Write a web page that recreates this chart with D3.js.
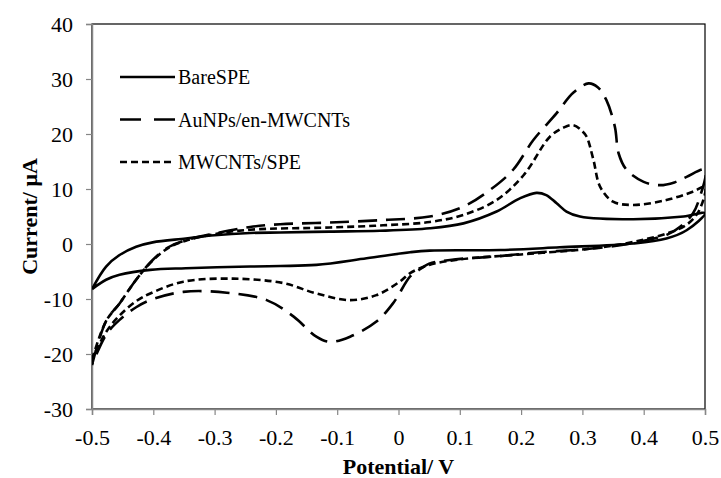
<!DOCTYPE html>
<html>
<head>
<meta charset="utf-8">
<script src="https://cdn.jsdelivr.net/npm/d3@7"></script>
<style>
  html, body { margin: 0; padding: 0; background: #fff; }
  svg text { font-family: 'Liberation Serif', 'Times New Roman', 'DejaVu Serif', serif; }
</style>
</head>
<body>
<svg id="chart" width="721" height="478"></svg>
<script>
// ---- Data (potential in V, current in µA), forward scan then reverse scan ----
const seriesNames = ["BareSPE", "AuNPs/en-MWCNTs", "MWCNTs/SPE"];

const bareSPE = [
  [-0.5,-8.2],[-0.477,-4.1],[-0.455,-2.0],[-0.428,-0.5],[-0.401,0.3],[-0.347,1.0],[-0.3,1.6],
  [-0.242,2.0],[-0.193,2.1],[-0.112,2.25],[-0.03,2.4],[0.051,2.85],[0.106,3.75],[0.16,5.9],
  [0.198,8.3],[0.225,9.3],[0.241,8.9],[0.258,7.4],[0.274,5.9],[0.296,5.0],[0.383,4.5],
  [0.465,5.0],[0.5,5.6],
  [0.47,2.5],[0.437,1.0],[0.383,0.1],[0.263,-0.6],[0.166,-1.1],[0.051,-1.2],[0.019,-1.5],
  [-0.052,-2.6],[-0.134,-3.8],[-0.193,-4.0],[-0.242,-4.1],[-0.347,-4.4],[-0.405,-4.7],
  [-0.455,-5.6],[-0.477,-6.5],[-0.5,-8.2]
];

const auNPs = [
  [-0.5,-22],[-0.477,-14],[-0.455,-10.8],[-0.428,-6.5],[-0.401,-2.9],[-0.374,-0.5],[-0.347,0.7],
  [-0.3,1.9],[-0.242,3.1],[-0.193,3.6],[-0.112,3.9],[-0.025,4.36],[0.051,5.0],[0.106,6.8],
  [0.149,9.8],[0.187,13.5],[0.22,18.9],[0.258,23.8],[0.285,27.5],[0.31,29.2],[0.325,28.5],
  [0.339,26.2],[0.353,21.3],[0.359,16.5],[0.372,13.5],[0.4,11.3],[0.427,10.7],[0.45,11.2],
  [0.47,12.2],[0.5,13.5],
  [0.49,8],[0.48,5.5],[0.46,3.2],[0.44,1.8],[0.41,0.8],[0.35,-0.4],[0.3,-1.0],[0.23,-1.5],
  [0.166,-2.2],[0.084,-2.9],[0.05,-3.6],[0.03,-5.0],[0.019,-5.9],[-0.009,-10.8],[-0.036,-14.1],
  [-0.079,-16.85],[-0.112,-17.8],[-0.134,-16.85],[-0.171,-13.2],[-0.215,-10.2],[-0.28,-8.85],
  [-0.351,-8.7],[-0.405,-10.2],[-0.428,-11.5],[-0.455,-13.8],[-0.477,-16.5],[-0.5,-22]
];

const mwcnts = [
  [-0.5,-21],[-0.477,-14],[-0.455,-10.8],[-0.428,-6.5],[-0.401,-3.0],[-0.374,-0.6],[-0.347,0.6],
  [-0.3,1.8],[-0.242,2.6],[-0.112,3.0],[-0.025,3.4],[0.051,4.0],[0.106,5.3],[0.16,8.0],
  [0.204,12.5],[0.247,19.5],[0.27,21.2],[0.285,21.6],[0.3,20.5],[0.307,19.5],[0.318,15.3],
  [0.329,10.4],[0.35,7.7],[0.383,7.1],[0.437,8.0],[0.48,9.5],[0.5,10.4],
  [0.49,6],[0.47,3.5],[0.44,2.0],[0.4,0.8],[0.35,-0.3],[0.3,-1.0],[0.2,-1.9],[0.1,-2.8],
  [0.05,-3.8],[0.019,-5.3],[0.002,-6.85],[-0.036,-9.3],[-0.079,-10.2],[-0.134,-9.0],
  [-0.188,-7.1],[-0.27,-6.3],[-0.351,-6.85],[-0.405,-9.0],[-0.428,-10.4],[-0.455,-13],
  [-0.477,-16],[-0.5,-21]
];

const xTicks = [-0.5,-0.4,-0.3,-0.2,-0.1,0,0.1,0.2,0.3,0.4,0.5];
const yTicks = [-30,-20,-10,0,10,20,30,40];
const xTitle = "Potential/ V";
const yTitle = "Current/ μA";

const FONT = "Liberation Serif";

// ---- Layout ----
const svg = d3.select("#chart");
const pLeft = 92, pRight = 705, pTop = 24, pBottom = 409;

const x = d3.scaleLinear().domain([-0.5, 0.5]).range([pLeft, pRight]);
const y = d3.scaleLinear().domain([-30, 40]).range([pBottom, pTop]);

// plot-area border
svg.append("rect")
  .attr("x", pLeft).attr("y", pTop)
  .attr("width", pRight - pLeft).attr("height", pBottom - pTop)
  .attr("fill", "none").attr("stroke", "#000").attr("stroke-width", 1.2);

// Axes
const xAxis = svg.append("g").attr("transform", `translate(0,${pBottom})`)
  .call(d3.axisBottom(x).tickValues(xTicks).tickSize(6).tickPadding(8)
    .tickFormat(d => Math.abs(d) < 1e-9 ? "0" : d3.format(".1f")(d).replace("−", "-")));
const yAxis = svg.append("g").attr("transform", `translate(${pLeft},0)`)
  .call(d3.axisLeft(y).tickValues(yTicks).tickSize(6).tickPadding(13)
    .tickFormat(d => String(d)));

[xAxis, yAxis].forEach(g => {
  g.attr("font-family", FONT).attr("font-size", 22);
  g.select(".domain").attr("stroke", "#868686").attr("stroke-width", 1.5);
  g.selectAll(".tick line").attr("stroke", "#868686").attr("stroke-width", 1.2);
  g.selectAll(".tick text").attr("fill", "#000")
    .attr("font-family", FONT).attr("font-size", 22);
});
xAxis.selectAll(".tick text").attr("dy", "1em");

// Axis titles
svg.append("text")
  .attr("x", (pLeft + pRight) / 2).attr("y", 474)
  .attr("text-anchor", "middle")
  .attr("font-family", FONT).attr("font-weight", "bold").attr("font-size", 22)
  .text(xTitle);
svg.append("text")
  .attr("transform", `translate(37,${(pTop + pBottom) / 2}) rotate(-90)`)
  .attr("text-anchor", "middle")
  .attr("font-family", FONT).attr("font-weight", "bold").attr("font-size", 22)
  .text(yTitle);

// Curves
const styles = [
  { data: bareSPE, dash: null },
  { data: auNPs, dash: "19,9" },
  { data: mwcnts, dash: "7,4" }
];

const line = d3.line()
  .x(d => x(d[0])).y(d => y(d[1]))
  .curve(d3.curveCatmullRom.alpha(0.5));

svg.append("clipPath").attr("id", "plotclip")
  .append("rect").attr("x", pLeft).attr("y", pTop)
  .attr("width", pRight - pLeft).attr("height", pBottom - pTop);

svg.append("g").attr("clip-path", "url(#plotclip)")
  .selectAll("path").data(styles).join("path")
  .attr("d", d => line(d.data))
  .attr("fill", "none")
  .attr("stroke", "#000")
  .attr("stroke-width", 2.6)
  .attr("stroke-dasharray", d => d.dash);

// Legend
const legY = [77, 119.5, 162];
const leg = svg.append("g");
styles.forEach((s, i) => {
  leg.append("line")
    .attr("x1", 120).attr("x2", 175)
    .attr("y1", legY[i]).attr("y2", legY[i])
    .attr("stroke", "#000").attr("stroke-width", 2.6)
    .attr("stroke-dasharray", i === 1 ? "21,13" : s.dash);
  leg.append("text")
    .attr("x", 178).attr("y", legY[i]).attr("dy", "0.35em")
    .attr("font-family", FONT).attr("font-size", 20)
    .text(seriesNames[i]);
});
</script>
</body>
</html>
